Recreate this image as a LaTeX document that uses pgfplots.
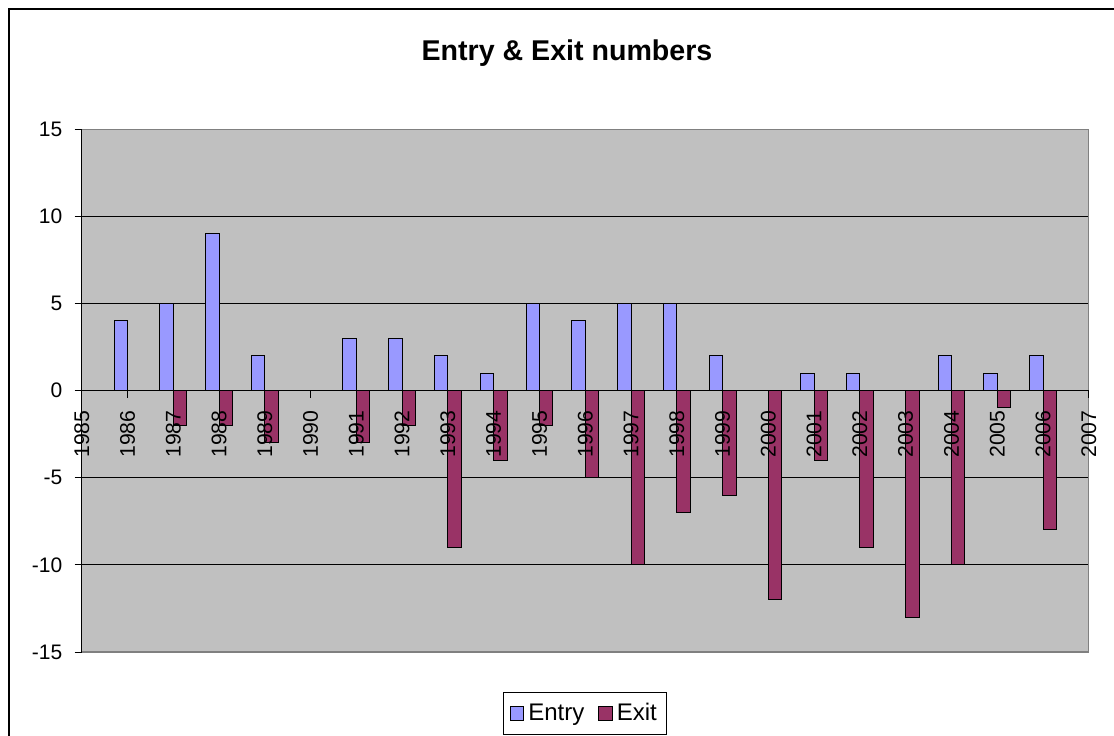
\documentclass[border=0pt]{standalone}
\usepackage{pgfplots}
\pgfplotsset{compat=1.18}
\usepackage{pgfplotstable}
\usepackage{fontspec}
\setmainfont{Liberation Sans}

\definecolor{entrycol}{HTML}{9999FF}
\definecolor{exitcol}{HTML}{993366}
\definecolor{plotbg}{HTML}{C0C0C0}
\definecolor{framegray}{HTML}{808080}

% year  entry  exit
\pgfplotstableread{
year entry exit
1986 4 0
1987 5 -2
1988 9 -2
1989 2 -3
1990 0 0
1991 3 -3
1992 3 -2
1993 2 -9
1994 1 -4
1995 5 -2
1996 4 -5
1997 5 -10
1998 5 -7
1999 2 -6
2000 0 -12
2001 1 -4
2002 1 -9
2003 0 -13
2004 2 -10
2005 1 -1
2006 2 -8
}\entryexit

\begin{document}
\begin{tikzpicture}
\begin{scope}[x=0.5pt,y=-0.5pt]
\useasboundingbox (0,0) rectangle (1114,735);
% outer chart frame
\draw[line width=0.8pt] (9,900) -- (9,9) -- (1300,9);
% chart title
\node[anchor=base,font=\bfseries\fontsize{14.3}{17}\selectfont,inner sep=0pt]
  at (567,60.7) {Entry \& Exit numbers};
\end{scope}
\begin{axis}[
  axis on top,
  at={(40.85pt,-64.5pt)}, anchor=north west,
  scale only axis,
  width=503.6pt, height=261.5pt,
  xmin=1985, xmax=2007,
  ymin=-15, ymax=15,
  axis x line=middle,
  axis y line=left,
  axis line style={-,black,line width=0.5pt},
  hide obscured x ticks=false,
  hide obscured y ticks=false,
  axis background/.style={fill=plotbg},
  xtick={1985,...,2007},
  ytick={-15,-10,...,15},
  xticklabel={\pgfmathprintnumber[/pgf/number format/1000 sep=]{\tick}},
  tick align=outside,
  major tick length=3.5pt,
  tick style={black,line width=0.5pt},
  xticklabel style={rotate=90,anchor=east,font=\fontsize{10.6}{12}\selectfont},
  xticklabel shift=3pt,
  yticklabel style={font=\fontsize{10.5}{12}\selectfont},
  yticklabel shift=2.7pt,
  /pgf/number format/assume math mode=true,
  ybar,
  bar width=6.7pt,
  legend columns=2,
  legend style={
    at={(0.5,0)}, anchor=north, yshift=-20pt,
    draw=black, line width=0.5pt, fill=white,
    font=\fontsize{12}{13}\selectfont,
    inner xsep=3pt, inner ysep=3.5pt,
    /tikz/every even column/.append style={column sep=5pt},
  },
  legend image code/.code={\draw[#1] (0pt,-3.4pt) rectangle (6.8pt,3.4pt);},
]
% horizontal gridlines, kept behind the bars
\draw[black,line width=0.5pt] (axis cs:1985,10) -- (axis cs:2007,10);
\draw[black,line width=0.5pt] (axis cs:1985,5) -- (axis cs:2007,5);
\draw[black,line width=0.5pt] (axis cs:1985,-5) -- (axis cs:2007,-5);
\draw[black,line width=0.5pt] (axis cs:1985,-10) -- (axis cs:2007,-10);
\addplot[fill=entrycol,draw=black,line width=0.5pt,bar shift=-3.35pt]
  table[x=year,y=entry]{\entryexit};
\addlegendentry{Entry}
\addplot[fill=exitcol,draw=black,line width=0.5pt,bar shift=3.35pt]
  table[x=year,y=exit]{\entryexit};
\addlegendentry{Exit}
% plot-area border on top, right and bottom
\draw[framegray,line width=0.8pt]
  (rel axis cs:0,1) -- (rel axis cs:1,1) -- (rel axis cs:1,0) -- (rel axis cs:0,0);
\end{axis}
\end{tikzpicture}
\end{document}
